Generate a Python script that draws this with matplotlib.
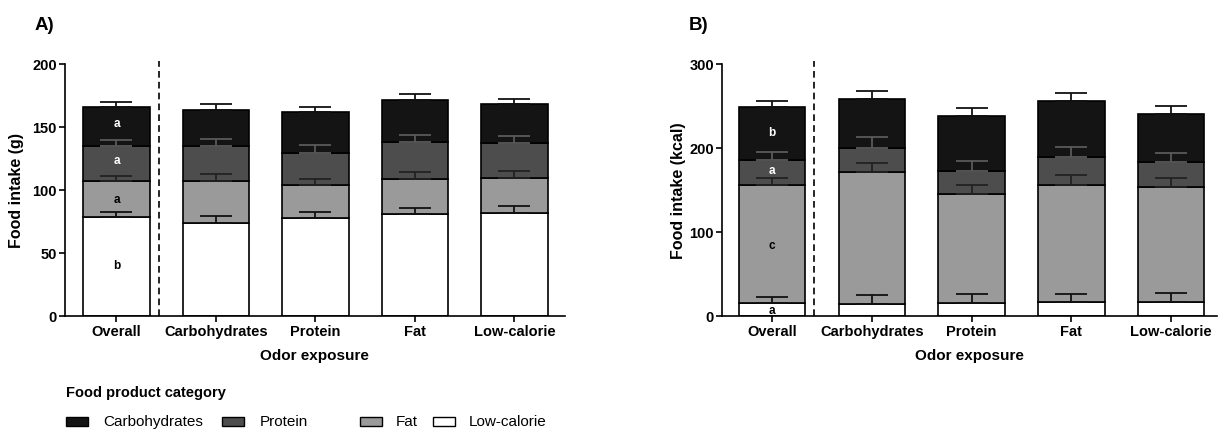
import matplotlib
matplotlib.use("Agg")
import matplotlib.pyplot as plt
from matplotlib.patches import Rectangle
import numpy as np

plt.rcParams['font.family'] = ['Liberation Sans', 'DejaVu Sans']

exposures = ["Overall", "Carbohydrates", "Protein", "Fat", "Low-calorie"]
categories = ["Low-calorie", "Fat", "Protein", "Carbohydrates"]  # stacking order, bottom to top
legend_order = ["Carbohydrates", "Protein", "Fat", "Low-calorie"]
colors = {"Carbohydrates": "#141414", "Protein": "#4d4d4d", "Fat": "#9a9a9a", "Low-calorie": "#ffffff"}
err_colors = {"Carbohydrates": "#111111", "Protein": "#5a5a5a", "Fat": "#222222", "Low-calorie": "#111111"}

# Panel A: grams
grams_low = [78.7, 74.2, 77.4, 80.8, 81.9]
grams_fat = [28.6, 33.1, 26.7, 28.1, 27.8]
grams_protein = [27.5, 27.5, 25.4, 28.8, 27.5]
grams_carbs = [31.3, 28.6, 32.1, 33.7, 30.7]
grams_sem_low = [4.2, 5.3, 5.2, 5.0, 5.3]
grams_sem_fat = [3.7, 5.3, 5.0, 5.0, 5.3]
grams_sem_protein = [5.1, 5.6, 6.1, 5.9, 5.8]
grams_sem_carbs = [3.4, 4.5, 4.5, 4.8, 4.6]

# Panel B: kcal
kcal_low = [15.1, 13.9, 15.5, 16.3, 17.1]
kcal_fat = [141.0, 157.7, 129.5, 140.2, 136.3]
kcal_protein = [30.2, 28.6, 27.8, 32.2, 29.4]
kcal_carbs = [62.0, 58.0, 65.2, 67.6, 57.6]
kcal_sem_low = [7.9, 10.7, 10.3, 9.9, 9.9]
kcal_sem_fat = [8.0, 10.4, 11.1, 11.6, 10.7]
kcal_sem_protein = [8.4, 12.4, 11.5, 11.9, 11.5]
kcal_sem_carbs = [7.2, 10.0, 9.5, 9.5, 9.9]

# significance letters on the "Overall" bar (category -> letter)
letters_A = {"Carbohydrates": "a", "Protein": "a", "Fat": "a", "Low-calorie": "b"}
letters_B = {"Carbohydrates": "b", "Protein": "a", "Fat": "c", "Low-calorie": "a"}

W, H = 1218, 431
fig = plt.figure(figsize=(W / 100, H / 100), dpi=100)


def px_axes(l, r, t, b):
    return fig.add_axes([l / W, 1 - b / H, (r - l) / W, (b - t) / H])


def draw_panel(ax, vals, sems, letters, ymax, ystep, ylabel, xlim, letter_y):
    x = np.arange(len(exposures))
    bw = 0.665
    bottom = np.zeros(len(exposures))
    tops = {}
    for cat in categories:
        v = np.array(vals[cat])
        ax.bar(x, v, bw, bottom=bottom, color=colors[cat], edgecolor="black",
               linewidth=1.2, zorder=2)
        tops[cat] = bottom + v
        bottom = bottom + v
    for cat in categories:
        ax.errorbar(x, tops[cat], yerr=[np.zeros(len(x)), np.array(sems[cat])],
                    fmt="none", ecolor=err_colors[cat], elinewidth=1.3,
                    capsize=11.5, capthick=1.3, zorder=3)
    # letters on the Overall bar
    for cat in categories:
        txtcol = "white" if cat in ("Carbohydrates", "Protein") else "black"
        ax.text(0, letter_y[cat], letters[cat], ha="center", va="center",
                fontsize=8.5, fontweight="bold", color=txtcol, zorder=4)
    ax.axvline(0.425, ymin=0, ymax=1.012, color="black", lw=1.2,
               ls=(0, (4, 2.5)), clip_on=False, zorder=1)
    ax.set_xlim(*xlim)
    ax.set_ylim(0, ymax)
    ax.set_yticks(np.arange(0, ymax + 1, ystep))
    ax.set_xticks(x)
    ax.set_xticklabels(exposures)
    for s in ("top", "right"):
        ax.spines[s].set_visible(False)
    for s in ("left", "bottom"):
        ax.spines[s].set_linewidth(1.2)
    ax.tick_params(axis="both", direction="out", length=4, width=1.2,
                   labelsize=10.5, pad=2)
    for lab in ax.get_xticklabels() + ax.get_yticklabels():
        lab.set_fontweight("bold")
    ax.set_ylabel(ylabel, fontsize=11.5, fontweight="bold")
    ax.set_xlabel("Odor exposure", fontsize=11, fontweight="bold")


axA = px_axes(65, 564.5, 65, 317)
draw_panel(axA,
           {"Low-calorie": grams_low, "Fat": grams_fat, "Protein": grams_protein, "Carbohydrates": grams_carbs},
           {"Low-calorie": grams_sem_low, "Fat": grams_sem_fat, "Protein": grams_sem_protein, "Carbohydrates": grams_sem_carbs},
           letters_A, 200, 50, "Food intake (g)", (-0.517, 4.503),
           {"Carbohydrates": 152.8, "Protein": 123.7, "Fat": 93.2, "Low-calorie": 40.5})
axA.yaxis.set_label_coords((24 - 65) / 499.5, 0.5)
axA.xaxis.set_label_coords(0.5, -32 / 252)

axB = px_axes(722.4, 1217, 65, 317)
draw_panel(axB,
           {"Low-calorie": kcal_low, "Fat": kcal_fat, "Protein": kcal_protein, "Carbohydrates": kcal_carbs},
           {"Low-calorie": kcal_sem_low, "Fat": kcal_sem_fat, "Protein": kcal_sem_protein, "Carbohydrates": kcal_sem_carbs},
           letters_B, 300, 100, "Food intake (kcal)", (-0.497, 4.46),
           {"Carbohydrates": 219.3, "Protein": 174.4, "Fat": 85.0, "Low-calorie": 7.2})
axB.yaxis.set_label_coords((686 - 722.4) / 494.6, 0.5)
axB.xaxis.set_label_coords(0.5, -32 / 252)

fig.text(35 / W, 1 - 26 / H, "A)", fontsize=13.5, fontweight="bold", ha="left", va="center")
fig.text(689 / W, 1 - 26 / H, "B)", fontsize=13.5, fontweight="bold", ha="left", va="center")

# Legend
fig.text(66 / W, 1 - 393 / H, "Food product category", fontsize=10.5, fontweight="bold",
         ha="left", va="center")
sw_left = [66, 222, 360, 433]
txt_left = [103, 260, 396, 469]
for cat, sl, tl in zip(legend_order, sw_left, txt_left):
    fig.patches.append(Rectangle((sl / W, 1 - 426.5 / H), 22 / W, 9 / H,
                                 transform=fig.transFigure, facecolor=colors[cat],
                                 edgecolor="black", linewidth=1.0))
    fig.text(tl / W, 1 - 422 / H, cat, fontsize=11, ha="left", va="center")

fig.savefig("out.png", dpi=100)
